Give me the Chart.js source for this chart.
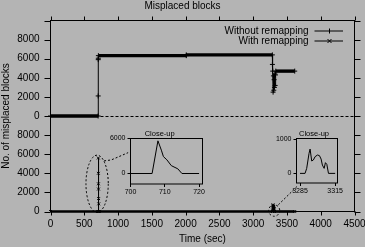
<!DOCTYPE html>
<html><head><meta charset="utf-8">
<script src="https://cdn.jsdelivr.net/npm/chart.js@4.4.1/dist/chart.umd.min.js"></script>
<style>
html,body{margin:0;padding:0;background:#b4b4b4;}
#wrap{position:relative;width:365px;height:247px;overflow:hidden;background:#b4b4b4;}
canvas{position:absolute;}
</style></head><body>
<div id="wrap">
<canvas id="main" width="365" height="247" style="left:0;top:0"></canvas>
<canvas id="c1" width="110" height="72" style="left:96px;top:126px"></canvas>
<canvas id="c2" width="80" height="72" style="left:268px;top:126px"></canvas>
</div>
<script>
// ---- text ----
const chartTitle = 'Misplaced blocks';
const xTitle = 'Time (sec)';
const yTitle = 'No. of misplaced blocks';
const seriesNames = ['Without remapping', 'With remapping'];
const insetTitle = 'Close-up';

// ---- ticks ----
const xTickValues = [0, 500, 1000, 1500, 2000, 2500, 3000, 3500, 4000, 4500];
const xTickLabels = ['0', '500', '1000', '1500', '2000', '2500', '3000', '3500', '4000', '4500'];
const yTickValues = [0, 2000, 4000, 6000, 8000, 10000, 12000, 14000, 16000, 18000, 20000];
const yTickLabels = ['0', '2000', '4000', '6000', '8000', '0', '2000', '4000', '6000', '8000', ''];
const upperOffset = 10000; // upper panel ("Without remapping") sits 10000 above the lower one

// ---- data: without remapping (upper panel) ----
const noRemapTime   = [0, 705, 706, 707, 708, 709, 2010, 2010, 3284, 3285, 3290, 3295, 3300, 3305, 3310, 3315, 3320, 3325, 3330, 3335, 3615];
const noRemapBlocks = [0, 0, 2100, 5900, 6050, 6320, 6320, 6400, 6400, 5400, 4700, 2500, 4200, 2700, 3800, 3000, 4400, 3200, 4300, 4700, 4700];

// ---- data: with remapping (lower panel), close-ups ----
const close1Time   = [700, 706.3, 708, 709, 709.6, 710.6, 711.9, 713.8, 715, 720];
const close1Blocks = [0, 0, 5600, 4000, 2900, 2350, 1350, 800, 0, 0];
const close2Time   = [3285, 3289.3, 3290.7, 3292.7, 3293.6, 3295, 3296.4, 3297.9, 3299.9, 3301.6, 3303, 3304.1, 3305.6, 3306.7, 3307.9, 3309.3, 3315];
const close2Blocks = [0, 0, 146, 583, 708, 360, 390, 487, 534, 516, 417, 242, 146, 312, 262, 0, 0];
const remapStartTime = [0], remapStartBlocks = [0];
const remapEndTime = [3615], remapEndBlocks = [0];
const close1XTicks = [700, 710, 720], close1YTicks = [0, 6000];
const close2XTicks = [3285, 3315], close2YTicks = [0, 1000];

// ---- callout annotations (data units of main chart) ----
const callouts = [
  {ellipse: [690, 2900, 165, 3000], path: [[793, 5300], [900, 5400], [1149, 6163]]},
  {ellipse: [3311, 100, 82, 600], path: [[3373, 703], [3660, 2700]]}
];

Chart.defaults.font.family = '"Liberation Sans", Arial, sans-serif';
Chart.defaults.color = '#000';

const remapTime = [...remapStartTime, ...close1Time, ...close2Time, ...remapEndTime];
const remapBlocks = [...remapStartBlocks, ...close1Blocks, ...close2Blocks, ...remapEndBlocks];

const pts = (t, v, off) => t.map((x, i) => ({x: x, y: v[i] + off}));
const thick = w => ({borderWidth: c => (c.p0.parsed.y === c.p1.parsed.y ? w : 1)});

const frame = {
  id: 'gnuFrame',
  beforeDatasetsDraw(chart) {
    const {ctx, chartArea: a, scales: {y}} = chart;
    const yy = Math.round(y.getPixelForValue(upperOffset)) + 0.5;
    ctx.save();
    ctx.strokeStyle = '#000'; ctx.lineWidth = 1; ctx.setLineDash([3, 2]);
    ctx.beginPath(); ctx.moveTo(a.left, yy); ctx.lineTo(a.right, yy); ctx.stroke();
    ctx.restore();
  },
  afterDatasetsDraw(chart) {
    const {ctx, chartArea: a, scales: {x, y}} = chart;
    ctx.save();
    ctx.strokeStyle = '#000'; ctx.lineWidth = 1; ctx.setLineDash([]);
    ctx.strokeRect(a.left, a.top, a.right - a.left, a.bottom - a.top);
    ctx.beginPath();
    x.ticks.forEach(t => {
      const px = Math.round(x.getPixelForValue(t.value)) + 0.5;
      ctx.moveTo(px, a.bottom); ctx.lineTo(px, a.bottom + 4);
      ctx.moveTo(px, a.top); ctx.lineTo(px, a.top - 4);
    });
    y.ticks.forEach(t => {
      const py = Math.round(y.getPixelForValue(t.value)) + 0.5;
      ctx.moveTo(a.left, py); ctx.lineTo(a.left - 6, py);
      ctx.moveTo(a.right, py); ctx.lineTo(a.right + 6, py);
    });
    ctx.stroke();
    // callouts
    ctx.setLineDash([2, 2]);
    callouts.forEach(c => {
      const [cx, cy, rx, ry] = c.ellipse;
      const px = x.getPixelForValue(cx), py = y.getPixelForValue(cy);
      const prx = Math.abs(x.getPixelForValue(cx + rx) - px);
      const pry = Math.abs(y.getPixelForValue(cy + ry) - py);
      ctx.beginPath(); ctx.ellipse(px, py, prx, pry, 0, 0, Math.PI * 2); ctx.stroke();
      ctx.beginPath();
      c.path.forEach((p, i) => {
        const qx = x.getPixelForValue(p[0]), qy = y.getPixelForValue(p[1]);
        if (i === 0) ctx.moveTo(qx, qy); else ctx.lineTo(qx, qy);
      });
      ctx.stroke();
    });
    ctx.setLineDash([]);
    // legend
    ctx.font = '10px "Liberation Sans", Arial, sans-serif';
    ctx.fillStyle = '#000'; ctx.textAlign = 'right'; ctx.textBaseline = 'middle';
    chart.data.datasets.forEach((ds, i) => {
      const ly = a.top + 10.5 + 10 * i;
      ctx.fillText(ds.label, a.right - 46, ly);
      const x1 = a.right - 40, x2 = a.right - 11.5, xm = Math.round((x1 + x2) / 2) + 0.5;
      ctx.beginPath(); ctx.moveTo(x1, ly); ctx.lineTo(x2, ly);
      if (i === 0) { ctx.moveTo(xm, ly - 2.5); ctx.lineTo(xm, ly + 2.5); }
      else { ctx.moveTo(xm - 2, ly - 2); ctx.lineTo(xm + 2, ly + 2); ctx.moveTo(xm + 2, ly - 2); ctx.lineTo(xm - 2, ly + 2); }
      ctx.stroke();
    });
    ctx.restore();
  }
};

new Chart(document.getElementById('main'), {
  type: 'line',
  data: {
    datasets: [
      {label: seriesNames[0], data: pts(noRemapTime, noRemapBlocks, upperOffset), borderColor: '#000', backgroundColor: '#000',
       borderWidth: 1, segment: thick(3.4), pointStyle: 'cross', pointRadius: 2.5, pointBorderWidth: 1, pointBorderColor: '#000',
       tension: 0, fill: false, clip: false},
      {label: seriesNames[1], data: pts(remapTime, remapBlocks, 0), borderColor: '#000', backgroundColor: '#000',
       borderWidth: 1, segment: thick(2.6), pointStyle: 'crossRot', pointRadius: 2, pointBorderWidth: 1, pointBorderColor: '#000',
       tension: 0, fill: false, clip: false}
    ]
  },
  options: {
    responsive: false, animation: false, events: [],
    layout: {padding: 0},
    plugins: {
      legend: {display: false}, tooltip: {enabled: false},
      title: {display: true, text: chartTitle, font: {size: 10, weight: 'normal'}, color: '#000', padding: {top: 0, bottom: 8.5}}
    },
    scales: {
      x: {
        type: 'linear', min: 0, max: 4500,
        grid: {display: false, drawTicks: false}, border: {display: false},
        afterBuildTicks: s => { s.ticks = xTickValues.map(v => ({value: v})); },
        afterFit: s => { s.height = 35.5; s.paddingLeft = 0; s.paddingRight = 10.5; },
        ticks: {autoSkip: false, maxRotation: 0, padding: 7, font: {size: 10}, color: '#000', callback: (v, i) => xTickLabels[i]},
        title: {display: true, text: xTitle, font: {size: 10}, color: '#000', padding: {top: 0, bottom: 1.5}}
      },
      y: {
        type: 'linear', min: 0, max: 20000,
        grid: {display: false, drawTicks: false}, border: {display: false},
        afterBuildTicks: s => { s.ticks = yTickValues.map(v => ({value: v})); },
        afterFit: s => { s.width = 50.5; s.paddingTop = 0; s.paddingBottom = 0; },
        ticks: {autoSkip: false, padding: 11, font: {size: 10}, color: '#000', callback: (v, i) => yTickLabels[i]},
        title: {display: true, text: yTitle, font: {size: 10}, color: '#000', padding: {top: 0, bottom: 0}}
      }
    }
  },
  plugins: [frame]
});

function inset(id, t, v, xmin, xmax, ymin, ymax, xt, yt, yW, xH, padR, titleShift) {
  const insetPlugin = {
    id: 'insetBox',
    afterLayout(chart) {
      const tb = chart.titleBlock, a = chart.chartArea;
      if (tb) {
        const w = tb.right - tb.left, c = (a.left + a.right) / 2 + titleShift;
        tb.left = c - w / 2; tb.right = c + w / 2;
      }
    },
    afterDatasetsDraw(chart) {
      const {ctx, chartArea: a} = chart;
      ctx.save(); ctx.strokeStyle = '#000'; ctx.lineWidth = 1;
      ctx.strokeRect(a.left, a.top, a.right - a.left, a.bottom - a.top);
      ctx.restore();
    }
  };
  return new Chart(document.getElementById(id), {
    type: 'line',
    data: {datasets: [{data: pts(t, v, 0), borderColor: '#000', borderWidth: 1, pointRadius: 0, tension: 0, fill: false}]},
    options: {
      responsive: false, animation: false, events: [],
      layout: {padding: {left: 0, right: padR, top: 0, bottom: 0}},
      plugins: {
        legend: {display: false}, tooltip: {enabled: false},
        title: {display: true, text: insetTitle, font: {size: 7.5, weight: 'normal'}, color: '#000', padding: {top: 3, bottom: 0.5}}
      },
      scales: {
        x: {
          type: 'linear', min: xmin, max: xmax,
          grid: {display: true, drawOnChartArea: false, drawTicks: true, tickLength: 3, color: '#000'}, border: {display: false},
          afterBuildTicks: s => { s.ticks = xt.map(q => ({value: q})); },
          afterFit: s => { s.height = xH; s.paddingLeft = 0; s.paddingRight = 0; },
          ticks: {autoSkip: false, maxRotation: 0, padding: 1, font: {size: 7}, color: '#000', callback: q => String(q)}
        },
        y: {
          type: 'linear', min: ymin, max: ymax,
          grid: {display: true, drawOnChartArea: false, drawTicks: true, tickLength: 3, color: '#000'}, border: {display: false},
          afterBuildTicks: s => { s.ticks = yt.map(q => ({value: q})); },
          afterFit: s => { s.width = yW; s.paddingTop = 0; s.paddingBottom = 0; },
          ticks: {autoSkip: false, padding: 2, font: {size: 7}, color: '#000', callback: q => String(q)}
        }
      }
    },
    plugins: [insetPlugin]
  });
}

// canvas 1: left 96, width 110 -> chart area 130.5..202.5
inset('c1', close1Time, close1Blocks, 700, 721, -1800, 6000, close1XTicks, close1YTicks, 34.5, 14, 3.5, -6.8);
// canvas 2: left 268, width 80 -> chart area 296.5..337.5
inset('c2', close2Time, close2Blocks, 3282, 3317, -280, 1015, close2XTicks, close2YTicks, 28.5, 15, 10.5, -3);
</script>
</body></html>
